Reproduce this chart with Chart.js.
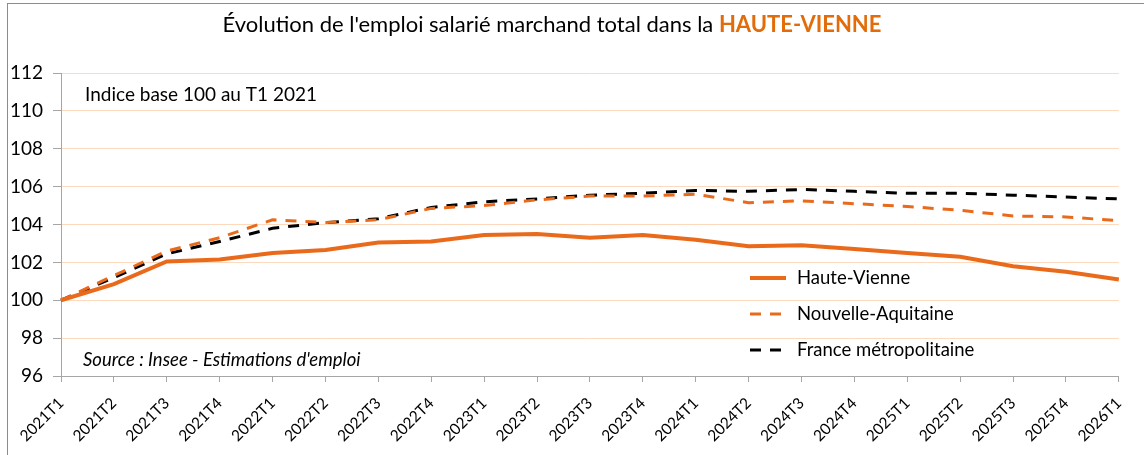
<!DOCTYPE html>
<html>
<head>
<meta charset="utf-8">
<script src="https://cdn.jsdelivr.net/npm/chart.js@4"></script>
<style>
  html, body { margin: 0; padding: 0; background: #fff; }
  #wrap { position: relative; width: 1144px; height: 455px; }
  #frame { position: absolute; left: 7px; top: 3px; width: 1150px; height: 470px; border: 1px solid #8c8c8c; pointer-events: none; }
</style>
</head>
<body>
<div id="wrap">
  <canvas id="emploiChart" width="1144" height="455"></canvas>
  <div id="frame"></div>
</div>
<script>
const quarters = ['2021T1', '2021T2', '2021T3', '2021T4', '2022T1', '2022T2', '2022T3', '2022T4',
  '2023T1', '2023T2', '2023T3', '2023T4', '2024T1', '2024T2', '2024T3', '2024T4',
  '2025T1', '2025T2', '2025T3', '2025T4', '2026T1'];

const hauteVienne = [100, 100.85, 102.05, 102.15, 102.5, 102.65, 103.05, 103.1, 103.45, 103.5, 103.3,
  103.45, 103.2, 102.85, 102.9, 102.7, 102.5, 102.3, 101.8, 101.5, 101.1];
const nouvelleAquitaine = [100, 101.3, 102.6, 103.3, 104.25, 104.1, 104.25, 104.85, 105.0, 105.3, 105.5,
  105.5, 105.6, 105.15, 105.25, 105.1, 104.95, 104.75, 104.45, 104.4, 104.2];
const franceMetro = [100, 101.2, 102.45, 103.1, 103.8, 104.1, 104.3, 104.9, 105.2, 105.35, 105.55,
  105.65, 105.8, 105.75, 105.85, 105.75, 105.65, 105.65, 105.55, 105.45, 105.35];

const yTicks = [96, 98, 100, 102, 104, 106, 108, 110, 112];

const orange = '#ea6a1c';
const font = 'Lato, "Open Sans", sans-serif';

// title, notes and in-plot legend, drawn like the Excel original
const decorations = {
  id: 'decorations',
  afterDraw(chart) {
    const c = chart.ctx;
    c.save();
    c.textBaseline = 'middle';
    const t1 = "Évolution de l'emploi salarié marchand total dans la ";
    c.font = 'bold 22px ' + font;
    const w2 = c.measureText('HAUTE-VIENNE').width;
    c.font = '22px ' + font;
    const w1 = c.measureText(t1).width;
    let x = 552 - (w1 + w2) / 2;
    c.fillStyle = '#000';
    c.fillText(t1, x, 25);
    c.font = 'bold 22px ' + font;
    c.fillStyle = '#e36c0a';
    c.fillText('HAUTE-VIENNE', x + w1, 25);

    c.font = '19px ' + font;
    c.fillStyle = '#000';
    c.fillText('Indice base 100 au T1 2021', 85, 95);
    c.font = 'italic 18.5px ' + font;
    c.fillText("Source : Insee - Estimations d'emploi", 83, 360);

    // legend
    const rows = [278, 314, 350];
    chart.data.datasets.forEach((ds, i) => {
      const y = rows[i];
      c.beginPath();
      c.strokeStyle = ds.borderColor;
      c.lineWidth = ds.borderWidth;
      c.setLineDash(ds.borderDash || []);
      c.moveTo(750, y);
      c.lineTo(786, y);
      c.stroke();
      c.setLineDash([]);
      c.fillStyle = '#000';
      c.font = '18.5px ' + font;
      c.fillText(ds.label, 797, y);
    });
    c.restore();
  }
};

new Chart(document.getElementById('emploiChart'), {
  type: 'line',
  data: {
    labels: quarters,
    datasets: [{
      label: 'Haute-Vienne',
      data: hauteVienne,
      borderColor: orange,
      borderWidth: 4,
      pointRadius: 0,
      tension: 0
    }, {
      label: 'Nouvelle-Aquitaine',
      data: nouvelleAquitaine,
      borderColor: orange,
      borderWidth: 3,
      borderDash: [11, 9],
      pointRadius: 0,
      tension: 0
    }, {
      label: 'France métropolitaine',
      data: franceMetro,
      borderColor: '#000',
      borderWidth: 3,
      borderDash: [11, 9],
      pointRadius: 0,
      tension: 0
    }]
  },
  options: {
    responsive: false,
    animation: false,
    layout: { padding: { top: 73, right: 25, left: 0, bottom: 0 } },
    plugins: {
      legend: { display: false },
      tooltip: { enabled: false }
    },
    scales: {
      x: {
        offset: false,
        afterFit(scale) { scale.height = 79; },
        grid: {
          display: true,
          drawOnChartArea: false,
          drawTicks: true,
          tickLength: 6,
          color: '#a6a6a6'
        },
        border: { color: '#a6a6a6', width: 1 },
        ticks: {
          autoSkip: false,
          maxRotation: 45,
          minRotation: 45,
          padding: 12,
          color: '#000',
          font: { family: font, size: 15.5 }
        }
      },
      y: {
        min: 96,
        max: 112,
        afterFit(scale) { scale.width = 61; },
        afterBuildTicks(scale) { scale.ticks = yTicks.map(v => ({ value: v })); },
        grid: {
          color: (ctx) => ctx.tick && ctx.tick.value === 96 ? '#a6a6a6' : '#fdd9bd',
          tickColor: '#a6a6a6',
          tickLength: 8,
          lineWidth: 1
        },
        border: { color: '#a6a6a6', width: 1 },
        ticks: {
          padding: 10,
          color: '#000',
          font: { family: font, size: 19 }
        }
      }
    }
  },
  plugins: [decorations]
});
</script>
</body>
</html>
